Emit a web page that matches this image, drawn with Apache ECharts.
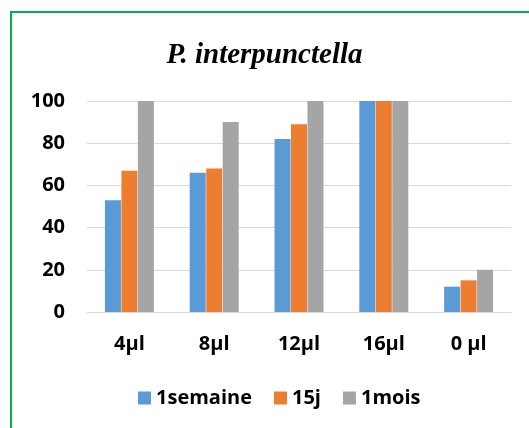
<!DOCTYPE html>
<html>
<head>
<meta charset="utf-8">
<script src="https://cdn.jsdelivr.net/npm/echarts@6/dist/echarts.min.js"></script>
<style>
    html, body { margin: 0; padding: 0; background: #fff; }
    #chart { width: 529px; height: 428px; }
</style>
</head>
<body>
<div id="chart"></div>
<script>
    // data
    var categories = ['4µl', '8µl', '12µl', '16µl', '0 µl'];
    var semaine = [53, 66, 82, 100, 12];
    var quinze = [67, 68, 89, 100, 15];
    var mois = [100, 90, 100, 100, 20];
    var yTicks = [0, 20, 40, 60, 80, 100];

    var labelFont = '"Open Sans", "Liberation Sans", sans-serif';

    var myChart = echarts.init(document.getElementById('chart'));
    var option = {
        animation: false,
        graphic: [
            {
                type: 'rect',
                shape: { x: 11, y: 12, width: 2000, height: 2000 },
                style: { fill: 'none', stroke: '#00B050', lineWidth: 2 }
            }
        ],
        title: {
            text: 'P. interpunctella',
            left: 'center',
            top: 36,
            textStyle: {
                fontFamily: '"Liberation Serif", "Times New Roman", serif',
                fontStyle: 'italic',
                fontWeight: 'bold',
                fontSize: 29,
                color: '#000'
            }
        },
        legend: {
            bottom: 15,
            left: 133,
            itemWidth: 13,
            itemHeight: 13,
            itemGap: 22,
            icon: 'rect',
            textStyle: {
                fontFamily: labelFont,
                fontWeight: 'bold',
                fontSize: 20,
                color: '#000'
            }
        },
        grid: {
            left: 87,
            right: 18,
            top: 101,
            bottom: 116
        },
        xAxis: {
            type: 'category',
            data: categories,
            axisTick: { show: false },
            axisLine: { lineStyle: { color: '#D9D9D9', width: 1 } },
            axisLabel: {
                margin: 22,
                fontFamily: labelFont,
                fontWeight: 'bold',
                fontSize: 20,
                color: '#000'
            }
        },
        yAxis: {
            type: 'value',
            min: yTicks[0],
            max: yTicks[yTicks.length - 1],
            interval: 20,
            axisLine: { show: false },
            axisTick: { show: false },
            splitLine: { lineStyle: { color: '#D9D9D9', width: 1 } },
            axisLabel: {
                margin: 22,
                fontFamily: labelFont,
                fontWeight: 'bold',
                fontSize: 20,
                color: '#000'
            }
        },
        series: [
            { name: '1semaine', type: 'bar', data: semaine, barWidth: 16, barGap: '3%', itemStyle: { color: '#5B9BD5' } },
            { name: '15j', type: 'bar', data: quinze, barWidth: 16, barGap: '3%', itemStyle: { color: '#ED7D31' } },
            { name: '1mois', type: 'bar', data: mois, barWidth: 16, barGap: '3%', itemStyle: { color: '#A5A5A5' } }
        ]
    };

    myChart.setOption(option);
</script>
</body>
</html>
